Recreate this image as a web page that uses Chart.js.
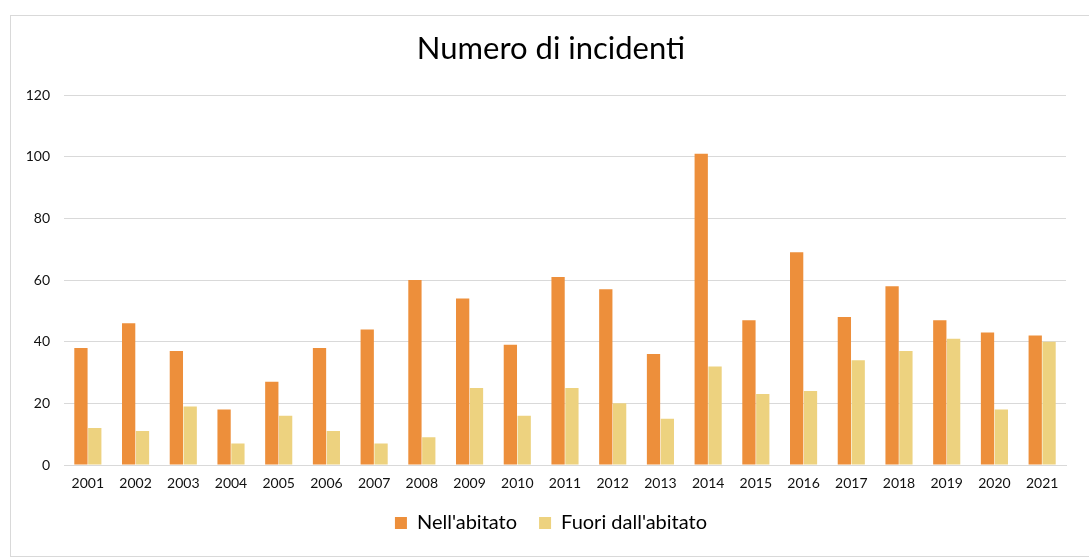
<!DOCTYPE html>
<html>
<head>
<meta charset="utf-8">
<script src="https://cdn.jsdelivr.net/npm/chart.js@4"></script>
<style>
  html, body { margin: 0; padding: 0; background: #fff; }
  #frame { position: absolute; left: 10px; top: 15px; width: 1200px; height: 540px; border: 1px solid #d9d9d9; }
  #wrap { position: absolute; left: 0; top: 0; width: 1089px; height: 558px; }
</style>
</head>
<body>
<div id="frame"></div>
<div id="wrap"><canvas id="myChart" width="1089" height="558"></canvas></div>
<script>
const anni = ['2001', '2002', '2003', '2004', '2005', '2006', '2007', '2008', '2009', '2010', '2011',
    '2012', '2013', '2014', '2015', '2016', '2017', '2018', '2019', '2020', '2021'];
const nellAbitato = [38, 46, 37, 18, 27, 38, 44, 60, 54, 39, 61, 57, 36, 101, 47, 69, 48, 58, 47, 43, 42];
const fuoriAbitato = [12, 11, 19, 7, 16, 11, 7, 9, 25, 16, 25, 20, 15, 32, 23, 24, 34, 37, 41, 18, 40];

const ctx = document.getElementById('myChart');

// the y labels sit in the left padding, so widen the label clip area after layout
const yLabelRoom = {
    id: 'yLabelRoom',
    afterLayout: chart => { chart.scales.y.left = 0; }
};

new Chart(ctx, {
    type: 'bar',
    data: {
        labels: anni,
        datasets: [{
            label: "Nell'abitato",
            data: nellAbitato,
            backgroundColor: '#ED8F3B',
            borderWidth: 0,
            barPercentage: 0.96,
            categoryPercentage: 0.58
        }, {
            label: "Fuori dall'abitato",
            data: fuoriAbitato,
            backgroundColor: '#EDD27F',
            borderWidth: 0,
            barPercentage: 0.96,
            categoryPercentage: 0.58
        }]
    },
    plugins: [yLabelRoom],
    options: {
        responsive: false,
        animation: false,
        // left padding shifts title and legend centre to match the reference
        layout: { padding: { left: 36, right: 23, top: 0, bottom: 15 } },
        plugins: {
            title: {
                display: true,
                text: 'Numero di incidenti',
                color: '#000',
                font: { family: 'Lato', size: 31, weight: 'normal' },
                padding: { top: 30, bottom: 28 }
            },
            legend: {
                position: 'bottom',
                labels: {
                    color: '#000',
                    font: { family: 'Lato', size: 20 },
                    boxWidth: 12,
                    boxHeight: 12,
                    padding: 22
                }
            },
            tooltip: { enabled: false }
        },
        scales: {
            x: {
                grid: { display: false },
                border: { color: '#d9d9d9' },
                ticks: { color: '#111', font: { family: 'Lato', size: 14 }, padding: 2 },
                afterFit: s => { s.height = 26; }
            },
            y: {
                min: 0,
                max: 120,
                ticks: { stepSize: 20, color: '#111', font: { family: 'Lato', size: 14 }, padding: 14 },
                grid: { color: '#d9d9d9', drawTicks: false },
                border: { display: false },
                afterFit: s => { s.width = 28; }
            }
        }
    }
});
</script>
</body>
</html>
